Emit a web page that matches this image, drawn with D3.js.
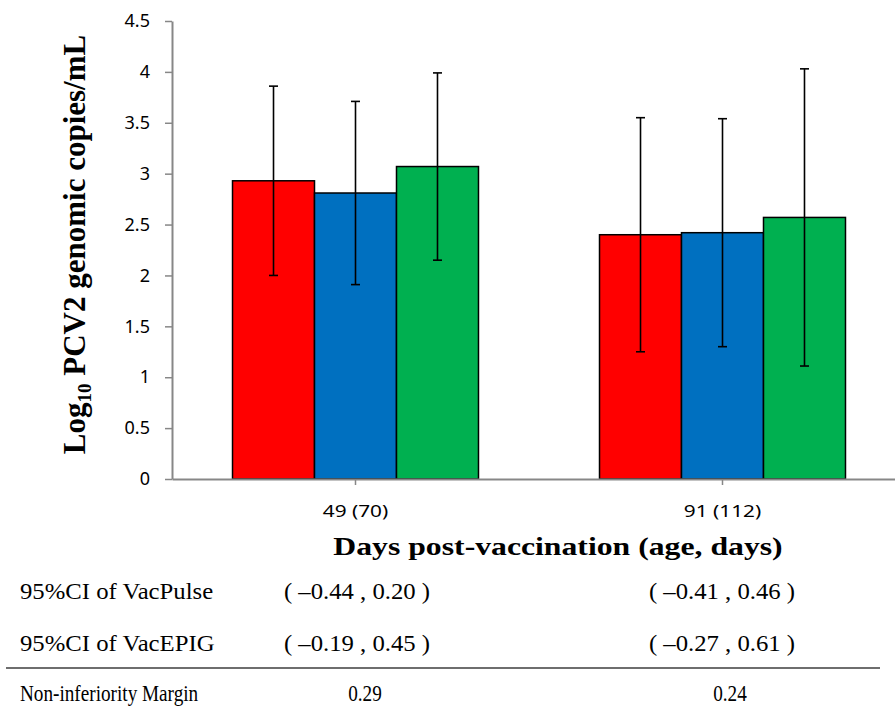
<!DOCTYPE html>
<html>
<head>
<meta charset="utf-8">
<script src="https://cdn.jsdelivr.net/npm/d3@7"></script>
<style>
  html, body { margin: 0; padding: 0; background: #fff; }
  svg { display: block; }
</style>
</head>
<body>
<svg id="chart" width="895" height="706"></svg>
<script>
// Sampling days (age in days) on the category axis
const categories = ["49 (70)", "91 (112)"];
// Vaccine groups, drawn left to right within each category
const series = ["Red", "Blue", "Green"];
const seriesColors = ["#FF0000", "#0070C0", "#00B050"];
// Mean log10 PCV2 genomic copies/mL per group, one array per category
const means = [
  [2.93, 2.81, 3.07],
  [2.40, 2.42, 2.57]
];
// Standard deviation (half-length of each error bar)
const sds = [
  [0.93, 0.90, 0.92],
  [1.15, 1.12, 1.46]
];
const yTicks = [0, 0.5, 1, 1.5, 2, 2.5, 3, 3.5, 4, 4.5];

// Table below the chart
const tableRowLabels = ["95%CI of VacPulse", "95%CI of VacEPIG", "Non-inferiority Margin"];
const ciVacPulse = [["\u20130.44", "0.20"], ["\u20130.41", "0.46"]];
const ciVacEPIG = [["\u20130.19", "0.45"], ["\u20130.27", "0.61"]];
const niMargin = ["0.29", "0.24"];

const svg = d3.select("#chart");

const plotLeft = 172, plotBottom = 479, plotTop = 21;
const bandStep = 367;

const x = d3.scaleBand()
  .domain(categories)
  .range([plotLeft, plotLeft + bandStep * categories.length])
  .paddingInner(0).paddingOuter(0);

const xInner = d3.scaleBand()
  .domain(series)
  .range([0, x.bandwidth()])
  .paddingInner(0)
  .paddingOuter(0.738);

const y = d3.scaleLinear().domain([0, 4.5]).range([plotBottom, plotTop]);

const axisColor = "#878787";

// Bars
const groups = svg.append("g").selectAll("g")
  .data(categories)
  .join("g")
  .attr("transform", d => `translate(${x(d)},0)`);

groups.selectAll("rect")
  .data((d, i) => series.map((s, j) => ({ s, j, v: means[i][j] })))
  .join("rect")
  .attr("x", d => xInner(d.s))
  .attr("width", xInner.bandwidth())
  .attr("y", d => y(d.v))
  .attr("height", d => y(0) - y(d.v))
  .attr("fill", d => seriesColors[d.j])
  .attr("stroke", "#000")
  .attr("stroke-width", 1.5);

// Error bars
const capHalf = 4.5;
const errs = groups.selectAll("g.err")
  .data((d, i) => series.map((s, j) => ({ s, m: means[i][j], sd: sds[i][j] })))
  .join("g")
  .attr("class", "err")
  .attr("transform", d => `translate(${xInner(d.s) + xInner.bandwidth() / 2},0)`)
  .attr("stroke", "#000")
  .attr("stroke-width", 1.6);

errs.append("line")
  .attr("x1", 0).attr("x2", 0)
  .attr("y1", d => y(d.m + d.sd)).attr("y2", d => y(d.m - d.sd));
errs.append("line")
  .attr("x1", -capHalf).attr("x2", capHalf)
  .attr("y1", d => y(d.m + d.sd)).attr("y2", d => y(d.m + d.sd));
errs.append("line")
  .attr("x1", -capHalf).attr("x2", capHalf)
  .attr("y1", d => y(d.m - d.sd)).attr("y2", d => y(d.m - d.sd));

// Y axis
const yAxis = svg.append("g")
  .attr("transform", `translate(${plotLeft},0)`)
  .call(d3.axisLeft(y).tickValues(yTicks).tickFormat(d3.format("~g"))
    .tickSizeInner(7).tickSizeOuter(0).tickPadding(15));
yAxis.select(".domain").attr("stroke", axisColor).attr("stroke-width", 2);
yAxis.selectAll(".tick line").attr("stroke", axisColor).attr("stroke-width", 1.5);
yAxis.selectAll(".tick text")
  .attr("font-family", "'Noto Sans', sans-serif")
  .attr("font-size", 18)
  .attr("fill", "#000");

// X axis
const xAxis = svg.append("g")
  .attr("transform", `translate(0,${plotBottom})`)
  .call(d3.axisBottom(x).tickSizeInner(6).tickSizeOuter(0).tickPadding(12));
xAxis.select(".domain").attr("stroke", axisColor).attr("stroke-width", 2);
xAxis.selectAll(".tick line").attr("stroke", axisColor).attr("stroke-width", 1.5);
xAxis.selectAll(".tick text")
  .attr("font-family", "'Noto Sans', sans-serif")
  .attr("font-size", 16)
  .attr("fill", "#000")
  .attr("y", 0).attr("dy", 0)
  .attr("transform", "translate(0,38) scale(1.3,1)");

// Axis titles
const yTitle = svg.append("text")
  .attr("transform", `translate(85,${(459 + 30) / 2}) rotate(-90)`)
  .attr("text-anchor", "middle")
  .attr("font-family", "'Liberation Serif', 'Times New Roman', serif")
  .attr("font-weight", "bold")
  .attr("font-size", 31)
  .attr("fill", "#000");
yTitle.append("tspan").text("Log");
yTitle.append("tspan").attr("font-size", 19).attr("dy", 6).text("10");
yTitle.append("tspan").attr("dy", -6).text(" PCV2 genomic copies/mL");

svg.append("text")
  .attr("transform", "translate(558,555) scale(1.22,1)")
  .attr("text-anchor", "middle")
  .attr("font-family", "'Liberation Serif', 'Times New Roman', serif")
  .attr("font-weight", "bold")
  .attr("font-size", 26)
  .attr("fill", "#000")
  .text("Days post-vaccination (age, days)");

// Table
const serif = "'Liberation Serif', 'Times New Roman', serif";
const rowBaselines = [599, 651, 701];
const rowScale = [1.03, 1.03, 0.8];
const colCenters = [357, 722];
const rowValues = [
  ciVacPulse.map(c => `( ${c[0]} , ${c[1]} )`),
  ciVacEPIG.map(c => `( ${c[0]} , ${c[1]} )`),
  niMargin
];

const table = svg.append("g")
  .attr("font-family", serif)
  .attr("font-size", 24)
  .attr("fill", "#000");

tableRowLabels.forEach((label, r) => {
  table.append("text")
    .attr("transform", `translate(20,${rowBaselines[r]}) scale(${rowScale[r]},1)`)
    .text(label);
  rowValues[r].forEach((v, c) => {
    table.append("text")
      .attr("transform", `translate(${colCenters[c] + (r === 2 ? 8 : 0)},${rowBaselines[r]}) scale(${rowScale[r]},1)`)
      .attr("text-anchor", "middle")
      .text(v);
  });
});

table.append("line")
  .attr("x1", 6).attr("x2", 880)
  .attr("y1", 668).attr("y2", 668)
  .attr("stroke", "#6e6e6e")
  .attr("stroke-width", 2);
</script>
</body>
</html>
